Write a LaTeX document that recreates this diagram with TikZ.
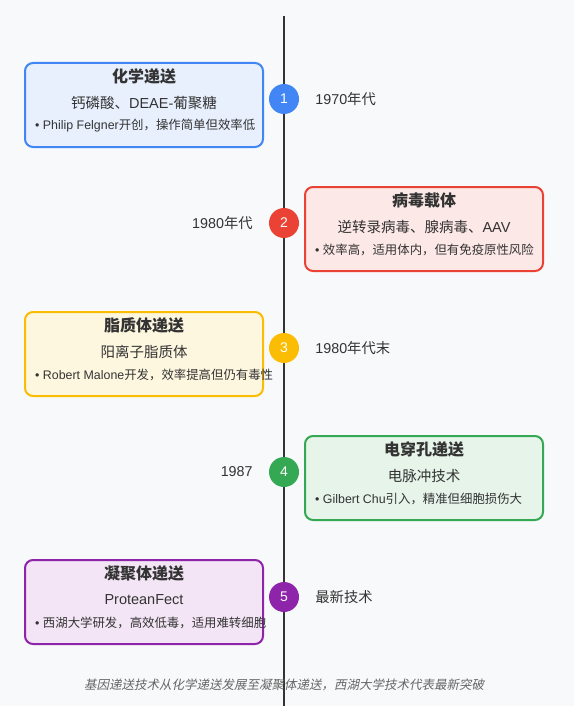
\documentclass[tikz,border=0pt]{standalone}
\usepackage{fontspec}
\setmainfont{Noto Sans CJK SC}
\newfontfamily\lat{Liberation Sans}
\newfontfamily\capfont{Noto Sans CJK SC}[FakeSlant=0.2]
\usetikzlibrary{calc, positioning}

\definecolor{bgcol}{HTML}{F8F9FA}
\definecolor{ink}{HTML}{333333}
\definecolor{capgray}{HTML}{666666}
\definecolor{blueline}{HTML}{4285F4}
\definecolor{bluefill}{HTML}{E8F0FE}
\definecolor{redline}{HTML}{EA4335}
\definecolor{redfill}{HTML}{FCE8E6}
\definecolor{yelline}{HTML}{FBBC04}
\definecolor{yelfill}{HTML}{FEF7E0}
\definecolor{greenline}{HTML}{34A853}
\definecolor{greenfill}{HTML}{E6F4EA}
\definecolor{purpline}{HTML}{8E24AA}
\definecolor{purpfill}{HTML}{F3E5F5}

\begin{document}
\begin{tikzpicture}[x=1pt, y=-1pt, text=ink,
    card/.style 2 args={draw=#1, fill=#2, line width=2pt, rounded corners=8pt,
        minimum width=238pt, minimum height=84pt, inner sep=0pt},
    dot/.style={circle, fill=#1, minimum size=30pt, inner sep=0pt,
        text=white, font=\fontsize{14}{16}\selectfont\lat},
    cardtitle/.style={font=\fontsize{16}{18}\selectfont\bfseries},
    cardsub/.style={font=\fontsize{14.5}{16}\selectfont},
    cardnote/.style={anchor=west, inner sep=0pt, font=\fontsize{12.4}{14}\selectfont},
    datelbl/.style={inner sep=0pt, font=\fontsize{14.3}{16}\selectfont}]

    \fill[bgcol] (0,0) rectangle (574,706);
    \useasboundingbox (0,0) rectangle (574,706);

    \coordinate (top) at (284, 16);
    \coordinate (bot) at (284, 706);
    \draw[ink, line width=2pt] (top) -- (bot);

    % cards
    \node[card={blueline}{bluefill}] (b1) at (144, 105) {};
    \node[card={redline}{redfill}] (b2) at (424, 229) {};
    \node[card={yelline}{yelfill}] (b3) at (144, 354) {};
    \node[card={greenline}{greenfill}] (b4) at (424, 478) {};
    \node[card={purpline}{purpfill}] (b5) at (144, 602) {};

    \node[cardtitle] (b1t) at ($(b1.north)+(0,14)$) {化学递送};
    \node[cardsub] (b1s) at ($(b1.north)+(0,41)$) {钙磷酸、{\lat DEAE-}葡聚糖};
    \node[cardnote] (b1n) at ($(b1.north west)+(11,64)$) {{\lat • Philip Felgner}开创，操作简单但效率低};

    \node[cardtitle] (b2t) at ($(b2.north)+(0,14)$) {病毒载体};
    \node[cardsub] (b2s) at ($(b2.north)+(0,41)$) {逆转录病毒、腺病毒、{\lat AAV}};
    \node[cardnote] (b2n) at ($(b2.north west)+(11,64)$) {{\lat • }效率高，适用体内，但有免疫原性风险};

    \node[cardtitle] (b3t) at ($(b3.north)+(0,14)$) {脂质体递送};
    \node[cardsub] (b3s) at ($(b3.north)+(0,41)$) {阳离子脂质体};
    \node[cardnote] (b3n) at ($(b3.north west)+(11,64)$) {{\lat • Robert Malone}开发，效率提高但仍有毒性};

    \node[cardtitle] (b4t) at ($(b4.north)+(0,14)$) {电穿孔递送};
    \node[cardsub] (b4s) at ($(b4.north)+(0,41)$) {电脉冲技术};
    \node[cardnote] (b4n) at ($(b4.north west)+(11,64)$) {{\lat • Gilbert Chu}引入，精准但细胞损伤大};

    \node[cardtitle] (b5t) at ($(b5.north)+(0,14)$) {凝聚体递送};
    \node[cardsub] (b5s) at ($(b5.north)+(0,41)$) {\lat ProteanFect};
    \node[cardnote] (b5n) at ($(b5.north west)+(11,64)$) {{\lat • }西湖大学研发，高效低毒，适用难转细胞};

    % markers
    \node[dot=blueline] (m1) at (284, 99) {1};
    \node[dot=redline] (m2) at (284, 223) {2};
    \node[dot=yelline] (m3) at (284, 348) {3};
    \node[dot=greenline] (m4) at (284, 472) {4};
    \node[dot=purpline] (m5) at (284, 597) {5};

    % dates
    \node[datelbl, right=16pt of m1] (d1) {{\lat 1970}年代};
    \node[datelbl, left=16pt of m2] (d2) {{\lat 1980}年代};
    \node[datelbl, right=16pt of m3] (d3) {{\lat 1980}年代末};
    \node[datelbl, left=16pt of m4] (d4) {\lat 1987};
    \node[datelbl, right=16pt of m5] (d5) {最新技术};

    \node[text=capgray, font=\fontsize{12.5}{14}\selectfont\capfont] (cap) at (284, 685)
        {基因递送技术从化学递送发展至凝聚体递送，西湖大学技术代表最新突破};
\end{tikzpicture}
\end{document}
